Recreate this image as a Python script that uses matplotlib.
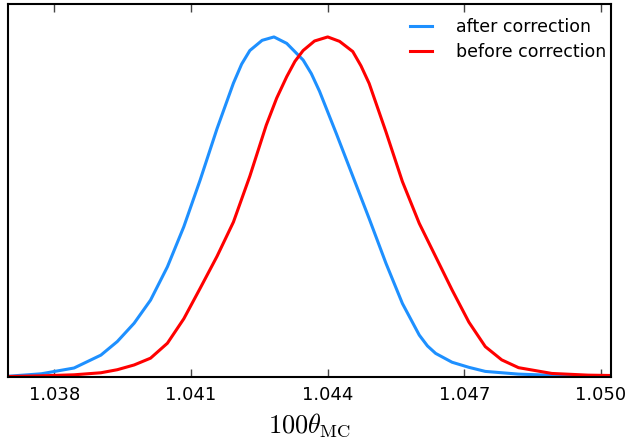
import numpy as np
import matplotlib
matplotlib.use("Agg")
import matplotlib.pyplot as plt

plt.rcParams['mathtext.fontset'] = 'cm'

# 100*theta_MC posterior (normalised to peak = 1)
theta_after = [1.03701, 1.03771, 1.03843, 1.03902, 1.03938, 1.03975, 1.04011,
               1.04048, 1.04084, 1.04120, 1.04157, 1.04193, 1.04211, 1.04229,
               1.04256, 1.04282, 1.04310, 1.04346, 1.04364, 1.04382, 1.04419,
               1.04455, 1.04491, 1.04528, 1.04564, 1.04601, 1.04619, 1.04637,
               1.04673, 1.04710, 1.04746, 1.04819, 1.04906, 1.05018]
p_after = [0.001, 0.008, 0.025, 0.063, 0.103, 0.157, 0.225,
           0.323, 0.441, 0.579, 0.730, 0.864, 0.920, 0.960,
           0.990, 1.000, 0.981, 0.932, 0.892, 0.840, 0.715,
           0.590, 0.465, 0.333, 0.215, 0.122, 0.090, 0.068,
           0.042, 0.027, 0.015, 0.007, 0.003, 0.001]

theta_before = [1.03701, 1.03771, 1.03843, 1.03902, 1.03938, 1.03975, 1.04011,
                1.04048, 1.04084, 1.04120, 1.04157, 1.04193, 1.04229, 1.04265,
                1.04288, 1.04310, 1.04328, 1.04346, 1.04371, 1.04400, 1.04426,
                1.04455, 1.04473, 1.04491, 1.04528, 1.04564, 1.04601, 1.04637,
                1.04673, 1.04710, 1.04746, 1.04782, 1.04819, 1.04892, 1.04972,
                1.05018]
p_before = [0.000, 0.002, 0.005, 0.011, 0.020, 0.034, 0.054,
            0.098, 0.170, 0.260, 0.354, 0.455, 0.590, 0.740,
            0.820, 0.883, 0.928, 0.960, 0.988, 1.000, 0.987,
            0.957, 0.915, 0.863, 0.720, 0.574, 0.451, 0.353,
            0.255, 0.160, 0.088, 0.049, 0.026, 0.009, 0.004,
            0.003]

xticks = [1.038, 1.041, 1.044, 1.047, 1.050]

fig = plt.figure(figsize=(6.31, 4.42), dpi=100)
ax = fig.add_axes([8/631, 1 - 376.5/442, 603/631, 372.5/442])

ax.plot(theta_after, p_after, color="#1e90ff", lw=2.2, label="after correction")
ax.plot(theta_before, p_before, color="red", lw=2.2, label="before correction")

ax.set_xlim(1.03698, 1.05022)
ax.set_ylim(0, 1.097)
ax.set_xticks(xticks)
ax.set_xticklabels([f"{t:.3f}" for t in xticks], fontsize=13)
ax.set_yticks([])
ax.tick_params(axis="x", direction="in", length=6, width=1, top=True,
               pad=7, color="#444444")
for s in ax.spines.values():
    s.set_linewidth(1.5)

ax.set_xlabel(r"$100\theta_{\rm MC}$", fontsize=19, labelpad=5)

ax.legend(loc="upper right", frameon=False, fontsize=12.5, handlelength=1.3,
          handletextpad=1.35, labelspacing=0.4, borderaxespad=0.4,
          bbox_to_anchor=(1.015, 1.0))

fig.savefig("out.png", dpi=100)
